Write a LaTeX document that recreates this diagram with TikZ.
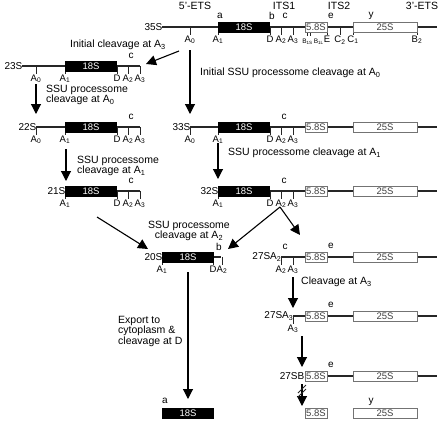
\documentclass[tikz,border=0pt]{standalone}
\usepackage{fontspec}
\setmainfont{Liberation Sans}
\usetikzlibrary{arrows.meta,positioning}

\newcommand\subsc[1]{\textsubscript{#1}}
% a cut site: tick down from the line and its label
\newcommand\cut[4]{\draw[tick] (#2,#3) -- (#2,#3+8) node[site,below] (#1) {#4};}

\tikzset{
  rna/.style={line width=1.3pt, draw=black!85},
  tick/.style={line width=0.9pt, draw=black!85},
  site/.style={font=\fontsize{9.5}{10}\selectfont, inner sep=0.4pt},
  tag/.style={font=\fontsize{10}{10}\selectfont, inner sep=0.5pt},
  head/.style={font=\fontsize{10.5}{11}\selectfont},
  pre/.style={font=\fontsize{10}{10}\selectfont, inner sep=0.5pt},
  blk/.style={fill=black, text=white, minimum width=52pt, minimum height=11pt,
    inner sep=0pt, font=\fontsize{9.5}{9}\selectfont},
  wbox/.style={draw=black!55, fill=white, text=black!75, line width=0.9pt,
    minimum height=10pt, inner sep=0pt, font=\fontsize{9.5}{9}\selectfont},
  s58/.style={wbox, minimum width=22pt},
  s25/.style={wbox, minimum width=64pt},
  flow/.style={-{Triangle[width=10pt,length=10pt]}, line width=1.1pt},
  note/.style={font=\fontsize{10.5}{10.5}\selectfont, align=left, inner sep=0pt},
}

\begin{document}
\begin{tikzpicture}[x=1pt,y=-1pt]
\useasboundingbox (0,0) rectangle (442,421);

% headers
\node[head] (h5) at (195,6) {5'-ETS};
\node[head] (h1) at (284,6) {ITS1};
\node[head] (h2) at (339,6) {ITS2};
\node[head] (h3) at (422,6) {3'-ETS};

%% 35S
\draw[rna] (162,27) -- (437,27);
\node[pre,left] (p35) at (163,27) {35S};
\cut{a0x}{190}{27}{A\subsc0}
\cut{a1x}{218}{27}{A\subsc1}
\cut{dx}{270}{27}{D}
\cut{a2x}{281}{27}{A\subsc2}
\cut{a3x}{293}{27}{A\subsc3}
\draw[tick] (307,27) -- (307,36);
\draw[tick] (310,27) -- (310,36);
\node[font=\fontsize{6.5}{6}\selectfont, inner sep=0pt] (b1x) at (313,42) {B\subsc{1S}\,B\subsc{1L}};
\cut{ex}{327}{27}{E}
\cut{c2x}{340}{27}{C\subsc2}
\cut{c1x}{353}{27}{C\subsc1}
\cut{b2x}{417}{27}{B\subsc2}
\node[blk] (r35a) at (244,27) {18S};
\node[s58] (r35b) at (316,27) {5.8S};
\node[s25] (r35c) at (385,27) {25S};
\node[tag] (ta) at (220,16) {a};
\node[tag] (tb) at (272,16) {b};
\node[tag] (tc) at (285,16) {c};
\node[tag] (te) at (331,16) {e};
\node[tag] (ty) at (371,16) {y};

%% 23S
\draw[rna] (22,66) -- (140,66);
\node[pre,left] (p23) at (23,66) {23S};
\cut{a0a}{36}{66}{A\subsc0}
\cut{a1a}{65}{66}{A\subsc1}
\cut{da}{117}{66}{D}
\cut{a2a}{128}{66}{A\subsc2}
\cut{a3a}{140}{66}{A\subsc3}
\node[blk] (r23) at (91,66) {18S};
\node[tag] (tca) at (131,56) {c};

%% 22S
\draw[rna] (36,127) -- (140,127);
\node[pre,left] (p22) at (37,127) {22S};
\cut{a0b}{36}{127}{A\subsc0}
\cut{a1b}{65}{127}{A\subsc1}
\cut{db}{117}{127}{D}
\cut{a2b}{128}{127}{A\subsc2}
\cut{a3b}{140}{127}{A\subsc3}
\node[blk] (r22) at (91,127) {18S};
\node[tag] (tcb) at (131,117) {c};

%% 21S
\draw[rna] (65,191) -- (140,191);
\node[pre,left] (p21) at (66,191) {21S};
\cut{a1c}{65}{191}{A\subsc1}
\cut{dc}{117}{191}{D}
\cut{a2c}{128}{191}{A\subsc2}
\cut{a3c}{140}{191}{A\subsc3}
\node[blk] (r21) at (91,191) {18S};
\node[tag] (tcc) at (131,181) {c};

%% 33S
\draw[rna] (190,127) -- (437,127);
\node[pre,left] (p33) at (191,127) {33S};
\cut{a0d}{190}{127}{A\subsc0}
\cut{a1d}{218}{127}{A\subsc1}
\cut{dd}{270}{127}{D}
\cut{a2d}{281}{127}{A\subsc2}
\cut{a3d}{293}{127}{A\subsc3}
\node[blk] (r33a) at (244,127) {18S};
\node[s58] (r33b) at (316,127) {5.8S};
\node[s25] (r33c) at (385,127) {25S};
\node[tag] (tcd) at (284,117) {c};

%% 32S
\draw[rna] (218,191) -- (437,191);
\node[pre,left] (p32) at (219,191) {32S};
\cut{a1e}{218}{191}{A\subsc1}
\cut{de}{270}{191}{D}
\cut{a2e}{281}{191}{A\subsc2}
\cut{a3e}{293}{191}{A\subsc3}
\node[blk] (r32a) at (244,191) {18S};
\node[s58] (r32b) at (316,191) {5.8S};
\node[s25] (r32c) at (385,191) {25S};
\node[tag] (tce) at (284,181) {c};

%% 20S
\draw[rna] (162,257) -- (221,257);
\node[pre,left] (p20) at (163,257) {20S};
\cut{a1f}{162}{257}{A\subsc1}
\cut{df}{213}{257}{D}
\cut{a2f}{222}{257}{A\subsc2}
\node[blk] (r20) at (188,257) {18S};
\node[tag] (tbf) at (219,247) {b};

%% 27SA2
\draw[rna] (281,257) -- (437,257);
\node[pre,left] (p27a) at (282,257) {27SA\subsc2};
\cut{a2g}{281}{257}{A\subsc2}
\cut{a3g}{293}{257}{A\subsc3}
\node[s58] (r27ab) at (316,257) {5.8S};
\node[s25] (r27ac) at (385,257) {25S};
\node[tag] (tcg) at (285,247) {c};
\node[tag] (teg) at (331,246) {e};

%% 27SA3
\draw[rna] (293,316) -- (437,316);
\node[pre,left] (p27b) at (294,316) {27SA\subsc3};
\cut{a3h}{293}{316}{A\subsc3}
\node[s58] (r27bb) at (316,316) {5.8S};
\node[s25] (r27bc) at (385,316) {25S};
\node[tag] (teh) at (331,305) {e};

%% 27SB
\draw[rna] (305,376) -- (437,376);
\node[pre,left] (p27c) at (305,376) {27SB};
\node[s58] (r27cb) at (316,376) {5.8S};
\node[s25] (r27cc) at (385,376) {25S};
\node[tag] (tei) at (331,365) {e};

%% mature rRNAs
\node[blk] (m18) at (188,413) {18S};
\node[tag] (tam) at (165,401) {a};
\node[s58] (m58) at (316,413) {5.8S};
\node[s25] (m25) at (385,413) {25S};
\node[tag] (tym) at (371,402) {y};

%% steps
\coordinate (s1) at (179,51);
\coordinate (e1) at (146,64);
\draw[flow] (s1) -- (e1);
\node[note, anchor=east] (n1) at (166,45) {Initial cleavage at A\subsc3};

\coordinate (s2) at (190,50);
\coordinate (e2) at (190,114);
\draw[flow] (s2) -- (e2);
\node[note, anchor=west] (n2) at (200,73) {Initial SSU processome cleavage at A\subsc0};

\coordinate (s3) at (36,84);
\coordinate (e3) at (36,114);
\draw[flow] (s3) -- (e3);
\node[note, anchor=west] (n3) at (46,95) {SSU processome\\cleavage at A\subsc0};

\coordinate (s4) at (66,149);
\coordinate (e4) at (66,181);
\draw[flow] (s4) -- (e4);
\node[note, anchor=west] (n4) at (77,166) {SSU processome\\cleavage at A\subsc1};

\coordinate (s5) at (218,143);
\coordinate (e5) at (218,179);
\draw[flow] (s5) -- (e5);
\node[note, anchor=west] (n5) at (228,153) {SSU processome cleavage at A\subsc1};

\coordinate (s6) at (97,217);
\coordinate (e6) at (148,249);
\draw[flow] (s6) -- (e6);
\node[note, align=center] (n6) at (189,231) {SSU processome\\cleavage at A\subsc2};

\coordinate (s7) at (280,207);
\coordinate (e7) at (228,249);
\coordinate (e8) at (300,235);
\draw[flow] (s7) -- (e7);
\draw[flow] (s7) -- (e8);

\coordinate (s9) at (188,272);
\coordinate (e9) at (188,399);
\draw[flow] (s9) -- (e9);
\node[note, anchor=west] (n9) at (118,331) {Export to\\cytoplasm \&\\cleavage at D};

\coordinate (s10) at (293,277);
\coordinate (e10) at (293,308);
\draw[flow] (s10) -- (e10);
\node[note, anchor=west] (n10) at (301,282) {Cleavage at A\subsc3};

\coordinate (s11) at (302,336);
\coordinate (e11) at (302,367);
\draw[flow] (s11) -- (e11);

\coordinate (s12) at (302,384);
\coordinate (e12) at (302,406);
\draw[flow] (s12) -- (e12);
\draw[tick] (298,393) -- (306,385);
\draw[tick] (298,397) -- (306,389);
\end{tikzpicture}
\end{document}
